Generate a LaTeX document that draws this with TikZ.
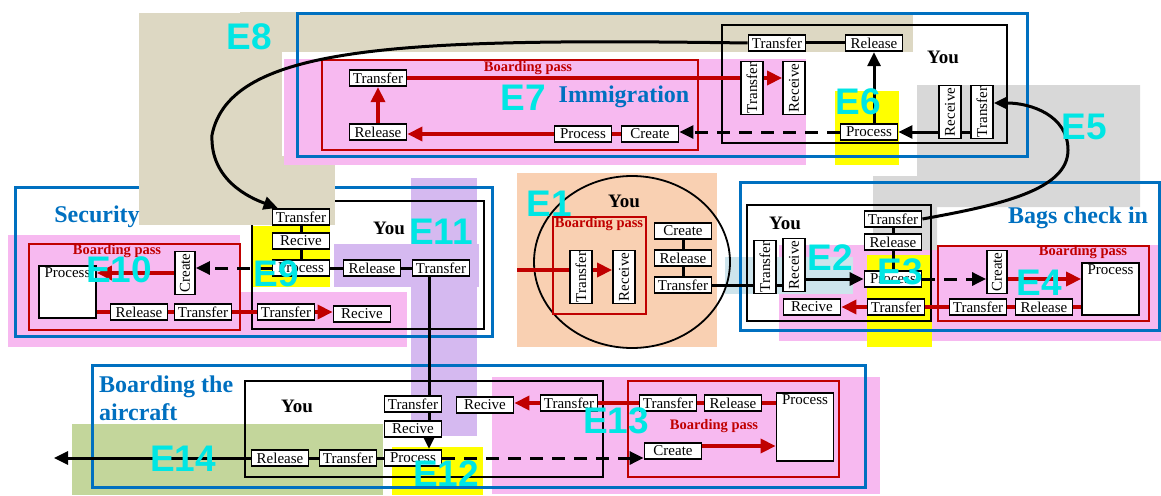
\documentclass[tikz,border=0pt]{standalone}
\usepackage{fontspec}
\setmainfont{Liberation Serif}
\newfontfamily\labelfont{Liberation Sans}
\usetikzlibrary{arrows.meta,calc}
\definecolor{secblue}{RGB}{0,112,192}
\definecolor{bpred}{RGB}{192,0,0}
\definecolor{ecyan}{RGB}{0,230,228}
\definecolor{tanbg}{RGB}{221,216,195}
\definecolor{pinkbg}{RGB}{247,185,240}
\definecolor{hlyellow}{RGB}{255,255,0}
\definecolor{graybg}{RGB}{216,216,216}
\definecolor{orangebg}{RGB}{249,208,178}
\definecolor{bluebg}{RGB}{205,228,236}
\definecolor{purplebg}{RGB}{213,185,240}
\definecolor{greenbg}{RGB}{195,214,155}
\pgfdeclarelayer{patches}
\pgfdeclarelayer{links}
\pgfsetlayers{patches,links,main}
\tikzset{
  box/.style={draw,line width=1.8pt,fill=white,minimum width=57pt,minimum height=16.5pt,inner sep=0.5pt,font=\fontsize{15}{15}\selectfont},
  vbox/.style={box,rotate=90,minimum width=53pt,minimum height=22pt},
  cbox/.style={box,rotate=90,minimum width=43pt,minimum height=20pt},
  bigbox/.style={draw,line width=1.8pt,fill=white,minimum width=57pt,inner sep=0pt,
    label={[anchor=north,inner sep=2pt,font=\fontsize{15}{15}\selectfont]north:Process}},
  link/.style={line width=3pt},
  arr/.style={link,-{Triangle[length=14pt,width=13pt]}},
  dasharr/.style={arr,dash pattern=on 13pt off 9pt},
  redlink/.style={line width=3.5pt,draw=bpred},
  redarr/.style={redlink,-{Triangle[length=15pt,width=14pt]}},
  blueframe/.style={draw=secblue,line width=3pt},
  youframe/.style={draw,line width=1.8pt},
  redframe/.style={draw=bpred,line width=1.8pt},
  you/.style={font=\bfseries\fontsize{19}{19}\selectfont},
  bptext/.style={text=bpred,font=\bfseries\fontsize{14.5}{14.5}\selectfont},
  sectitle/.style={text=secblue,font=\bfseries\fontsize{24}{28}\selectfont},
  elabel/.style={text=ecyan,font=\labelfont\bfseries\fontsize{37}{37}\selectfont},
}
\begin{document}
\begin{tikzpicture}[x=1pt,y=-1pt]
\useasboundingbox (0,0) rectangle (1161,495);
\begin{pgfonlayer}{patches}
\foreach \c/\xa/\ya/\xb/\yb in {orangebg/517/173/717/347, pinkbg/779/245/1161/341, bluebg/725/257/853/294,
  hlyellow/867/255/932/347, pinkbg/8/235/240/347, pinkbg/240/292/407/347, purplebg/411/178/477/436,
  purplebg/334/244/479/287, hlyellow/253/226/330/287, pinkbg/492/377/880/494, hlyellow/392/447/483/495,
  greenbg/72/424/383/495}
  \fill[\c] (\xa,\ya) rectangle (\xb,\yb);
\fill[graybg] (917,85) -- (1140,85) -- (1140,207) -- (937,207) -- (937,250) -- (873,250) -- (873,176) -- (917,176) -- cycle;
\draw[blueframe] (15,187) rectangle (492,336);
\draw[youframe] (252,201) rectangle (484,329);
\foreach \c/\xa/\ya/\xb/\yb in {tanbg/139/13/335/225, tanbg/240/12/913/52, white/282/52/912/156,
  pinkbg/284/59/806/165, hlyellow/835/91/899/165}
  \fill[\c] (\xa,\ya) rectangle (\xb,\yb);
\draw[blueframe] (297,14) rectangle (1027,156);
\draw[blueframe] (740,182) rectangle (1159,330);
\draw[blueframe] (92,365) rectangle (865,487);
\draw[youframe] (722,25) rectangle (1007,143);
\draw[youframe] (747,205) rectangle (931,321);
\draw[youframe] (245,381) rectangle (603,477);
\draw[youframe] (632,262) ellipse [x radius=98,y radius=86];
\foreach \xa/\ya/\xb/\yb in {322/60/698/150, 29/244/240/330, 553/217/646/314, 938/246/1149/321, 628/381/839/477}
  \draw[redframe] (\xa,\ya) rectangle (\xb,\yb);
\end{pgfonlayer}
\foreach \n/\x/\y/\t in {imm_tr1/378/78/Transfer, imm_rel1/378/132/Release, imm_pro/583/134/Process,
  imm_cre/650/134/Create, imm_tr2/777/43/Transfer, imm_rel2/874/43/Release, imm_pro2/869/132/Process,
  sec_tr1/301/217/Transfer, sec_rc/301/241/Recive, sec_pro/301/268/Process, sec_rel/372/268/Release,
  sec_tr2/441/268/Transfer, sec_tr3/286/312/Transfer, sec_rc2/362/314/Recive, sec_rel2/139/312/Release,
  sec_tr4/203/312/Transfer, e1_cre/683/231/Create, e1_rel/683/258/Release, e1_tr/683/285/Transfer,
  bag_tr1/893/219/Transfer, bag_rel/893/242/Release, bag_pro/893/279/Process, bag_tr2/896/307/Transfer,
  bag_rc/812/307/Recive, bag_tr3/978/307/Transfer, bag_rel2/1044/307/Release,
  brd_tr1/413/404/Transfer, brd_rc1/413/429/Recive, brd_pro/413/458/Process, brd_rc2/485/405/Recive,
  brd_tr2/569/403/Transfer, brd_tr3/668/403/Transfer, brd_rel/733/403/Release, brd_cre/673/451/Create,
  brd_rel2/280/458/Release, brd_tr4/348/458/Transfer}
  \node[box] (\n) at (\x,\y) {\t};
\foreach \n/\x/\y/\t in {imm_trv/752/88/Transfer, imm_rcv/794/88/Receive, imm_rcv2/950/112/Receive,
  imm_trv2/982/112/Transfer, e1_trv/581/277/Transfer, e1_rcv/624/277/Receive,
  bag_trv/765/267/Transfer, bag_rcv/794/265/Receive}
  \node[vbox] (\n) at (\x,\y) {\t};
\node[cbox] (sec_cre) at (185,273) {Create};
\node[cbox] (bag_cre) at (997,272) {Create};
\node[bigbox,minimum height=52pt] (sec_procbig) at (67.5,292) {};
\node[bigbox,minimum height=52pt] (bag_procbig) at (1110.5,289) {};
\node[bigbox,minimum height=68pt] (brd_procbig) at (805,427) {};
\node[sectitle] (imm_title) at (624,97) {Immigration};
\node[you] (imm_you) at (943,57) {You};
\node[bptext] (imm_bp) at (528,68) {Boarding pass};
\node[sectitle] (sec_title) at (97,217) {Security};
\node[you] (sec_you) at (389,228) {You};
\node[bptext] (sec_bp) at (117,251) {Boarding pass};
\node[you] (e1_you) at (624,201) {You};
\node[bptext] (e1_bp) at (599,224) {Boarding pass};
\node[you] (bag_you) at (785,223) {You};
\node[sectitle] (bag_title) at (1078,218) {Bags check in};
\node[bptext] (bag_bp) at (1083,252) {Boarding pass};
\node[you] (brd_you) at (297,406) {You};
\node[sectitle,align=left,anchor=north west,inner sep=0pt] (brd_title) at (99,376) {Boarding the\\aircraft};
\node[bptext] (brd_bp) at (714,426) {Boarding pass};
\begin{pgfonlayer}{links}
\draw[arr] (imm_tr2.west) .. controls (400,38) and (230,45) .. (212,135) .. controls (210,180) and (250,198) .. ([xshift=6pt]sec_tr1.north west);
\draw[link] (imm_tr2) -- (imm_rel2);
\draw[arr] (imm_pro2.north -| imm_rel2.south) -- (imm_rel2.south);
\draw[arr] (imm_pro2.east -| imm_rcv2.north) -- (imm_pro2.east);
\draw[link] (imm_pro2.east -| imm_rcv2.south) -- (imm_pro2.east -| imm_trv2.north);
\draw[dasharr] (imm_pro2.west) -- (imm_pro2.west -| imm_cre.east);
\draw[redlink] (imm_cre) -- (imm_pro);
\draw[redarr] (imm_pro.west) -- (imm_pro.west -| imm_rel1.east);
\draw[redarr] (imm_rel1.north) -- (imm_tr1.south);
\draw[redarr] (imm_tr1.east) -- (imm_tr1.east -| imm_rcv.north);
\draw[link] (sec_tr1) -- (sec_pro) -- (sec_tr2);
\draw[arr] ([xshift=-12pt]sec_tr2.south) -- ([xshift=16pt]brd_pro.north);
\draw[dasharr] (sec_pro.west) -- (sec_pro.west -| sec_cre.south);
\draw[redarr] (sec_cre.north) -- (sec_cre.north -| sec_procbig.east);
\draw[redlink] (sec_procbig.east |- sec_rel2.west) -- (sec_tr3.west);
\draw[redarr] (sec_tr3.east) -- (sec_tr3.east -| sec_rc2.west);
\coordinate (e1_in) at (517,270);
\draw[redarr] (e1_in) -- (e1_in -| e1_rcv.north);
\draw[link] (e1_cre) -- (e1_tr);
\draw[link] (e1_tr.east) -- (e1_tr.east -| bag_rcv.north);
\draw[arr] (bag_pro.west -| bag_rcv.south) -- (bag_pro.west);
\draw[link] (bag_tr1) -- (bag_pro);
\draw[arr] (bag_tr1.east) .. controls (1000,205) and (1068,190) .. (1068,150) .. controls (1068,115) and (1030,103) .. ([yshift=9pt]imm_trv2.south);
\draw[dasharr] (bag_pro.east) -- (bag_pro.east -| bag_cre.north);
\draw[redarr] (bag_pro.east -| bag_cre.south) -- (bag_pro.east -| bag_procbig.west);
\draw[redlink] (bag_procbig.west |- bag_rel2.east) -- (bag_tr2.east);
\draw[redarr] (bag_tr2.west) -- (bag_tr2.west -| bag_rc.east);
\coordinate (brd_exit) at (54,458);
\draw[arr] (brd_pro) -- (brd_exit);
\draw[dasharr] (brd_pro.east) -- (brd_pro.east -| brd_cre.west);
\draw[redarr] ($(brd_cre.east)+(0,-5)$) -- ($(brd_cre.east -| brd_procbig.west)+(0,-5)$);
\draw[redlink] (brd_procbig.west |- brd_rel.east) -- (brd_tr2.east);
\draw[redarr] (brd_tr2.west) -- (brd_tr2.west -| brd_rc2.east);
\end{pgfonlayer}
\foreach \n/\x/\y in {E1/549/204, E2/830/258, E3/900/272, E4/1039/283, E5/1084/127, E6/858/102, E7/523/98,
  E8/249/37, E9/276/274, E10/119/270, E11/441/232, E12/446/474, E13/616/421, E14/183/459}
  \node[elabel] (\n) at (\x,\y) {\n};
\end{tikzpicture}
\end{document}
